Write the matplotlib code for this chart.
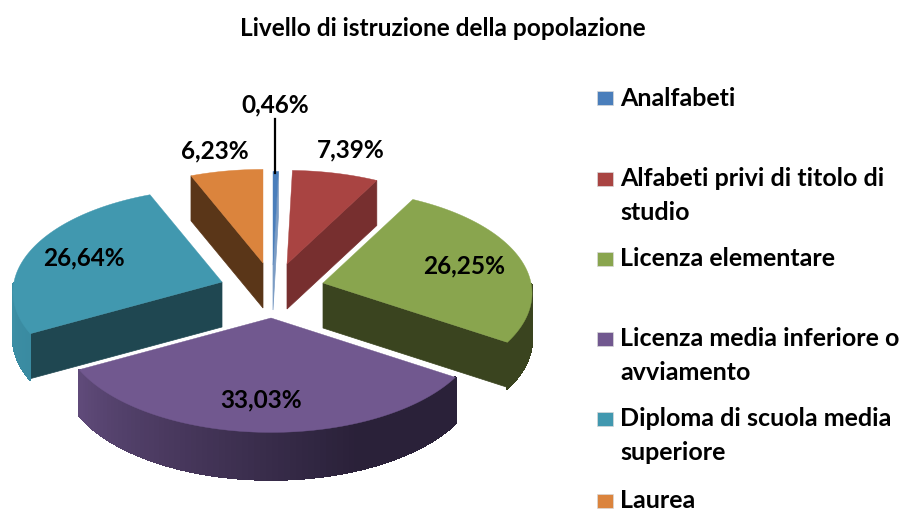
import numpy as np
import matplotlib
matplotlib.use('Agg')
import matplotlib.pyplot as plt
from matplotlib.collections import PolyCollection
from matplotlib.colors import to_rgb
from matplotlib.patches import Rectangle

plt.rcParams['font.family'] = ['Lato', 'DejaVu Sans']

title = "Livello di istruzione della popolazione"
categories = ["Analfabeti", "Alfabeti privi di titolo di\nstudio", "Licenza elementare",
              "Licenza media inferiore o\navviamento", "Diploma di scuola media\nsuperiore", "Laurea"]
values = [0.46, 7.39, 26.25, 33.03, 26.64, 6.23]

top_colors = ['#4a7ebb', '#a94442', '#89a54e', '#71588f', '#4198af', '#db843d']
wall_colors = ['#7b9cc4', '#772f2f', '#3a441f', '#2a2139', '#1f4751', '#5a3618']
# outer rim shading: (start angle colour, end angle colour)
rim_colors = [('#2f4f75', '#2f4f75'), ('#772f2f', '#772f2f'), ('#3a441f', '#3a441f'),
              ('#2a2139', '#5f4a79'), ('#3a8ba1', '#4198af'), ('#5a3618', '#5a3618')]

# layout in pixels
apex = [(273, 265), (287, 264), (323, 283), (271, 318), (222, 282), (263, 263)]
label_pos = [(275, 105), (351, 150), (464, 266), (261, 400), (84, 258), (215, 151)]
legend_y = [98, 179, 259, 339, 419, 501]
RX, RY, PERSP, DEPTH = 208, 104, 0.10, 45


def rim(theta, cx, cy):
    # clockwise from 12 o'clock, near side drawn a bit larger
    s = 1 - PERSP * np.cos(theta)
    return cx + RX * np.sin(theta) * s, cy - RY * np.cos(theta) * s


fig = plt.figure(figsize=(9, 5.11), dpi=100)
ax = fig.add_axes([0, 0, 1, 1])
ax.set_xlim(0, 900)
ax.set_ylim(511, 0)
ax.axis('off')

edges = np.radians(np.concatenate([[0], np.cumsum(values)]) * 3.6)

for i in [5, 0, 1, 4, 2, 3]:
    a0, a1 = edges[i], edges[i + 1]
    cx, cy = apex[i]
    th = np.linspace(a0, a1, 80)
    x, y = rim(th, cx, cy)
    d = DEPTH * (1 - 0.05 * np.cos(th))

    # radial wall facing the viewer
    if a1 < np.pi:
        ex, ey = rim(a1, cx, cy)
    elif a0 > np.pi:
        ex, ey = rim(a0, cx, cy)
    else:
        ex = None
    if ex is not None:
        ax.fill([cx, ex, ex, cx], [cy, ey, ey + DEPTH, cy + DEPTH],
                color=wall_colors[i], lw=0.5, zorder=2)

    # outer rim, split in small quads for the shading
    c0, c1 = np.array(to_rgb(rim_colors[i][0])), np.array(to_rgb(rim_colors[i][1]))
    quads, cols = [], []
    for k in range(len(th) - 1):
        mid = (th[k] + th[k + 1]) / 2
        if np.pi / 2 < mid < 3 * np.pi / 2:
            quads.append([(x[k], y[k]), (x[k + 1], y[k + 1]),
                          (x[k + 1], y[k + 1] + d[k + 1]), (x[k], y[k] + d[k])])
            f = k / (len(th) - 2)
            # purple stays dark until past the bottom of the pie
            if i == 3:
                f = np.clip((f - 0.3) / 0.7, 0, 1)
            col = c0 + (c1 - c0) * f
            cols.append(col)
    if quads:
        ax.add_collection(PolyCollection(quads, facecolors=cols, edgecolors=cols, linewidths=1.0,
                                         antialiaseds=False, zorder=2))

    ax.fill(np.r_[cx, x], np.r_[cy, y], color=top_colors[i], lw=0.3, zorder=3)

# leader line of the smallest slice
ax.plot([274.5, 274.5], [119, 173], color='black', lw=1.6, zorder=4)

for val, (lx, ly) in zip(values, label_pos):
    ax.text(lx, ly, f"{val:.2f}%".replace('.', ','), ha='center', va='center',
            fontsize=17.6, fontweight='bold', color='black', zorder=5)

ax.text(443, 28, title, ha='center', va='center', fontsize=17.6, fontweight='bold')

# legend
for name, color, ly in zip(categories, top_colors, legend_y):
    ax.add_patch(Rectangle((597, ly - 7), 16, 14, facecolor=color, edgecolor='#d9d9d9', lw=0.5))
    lines = name.split('\n')
    for j, line in enumerate(lines):
        ax.text(620, ly + j * 33.5, line, ha='left', va='center', fontsize=18, fontweight='bold')

plt.savefig('out.png', dpi=100)
plt.close()
